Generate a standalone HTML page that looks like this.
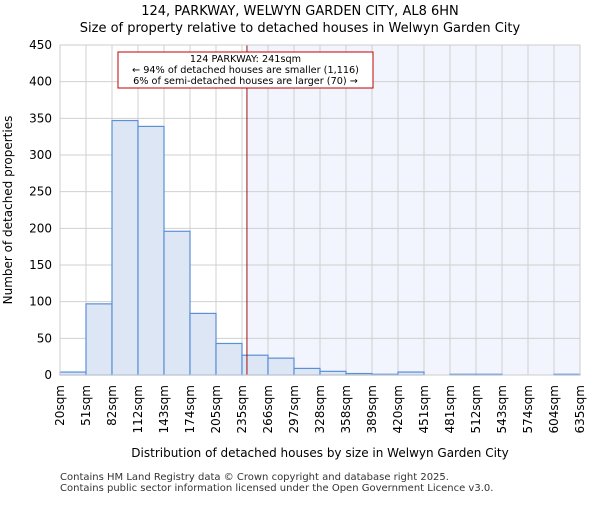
<!DOCTYPE html>
<html><head><meta charset="utf-8"><style>body{margin:0;background:#fff}svg{font-family:"DejaVu Sans","Liberation Sans",sans-serif}</style></head>
<body>
<svg id="c" width="600" height="500">
<text x="300" y="15" text-anchor="middle" font-size="13">124, PARKWAY, WELWYN GARDEN CITY, AL8 6HN</text>
<text x="300" y="32" text-anchor="middle" font-size="13">Size of property relative to detached houses in Welwyn Garden City</text>
<g id="plot"></g>
<text x="320" y="457" text-anchor="middle" font-size="12">Distribution of detached houses by size in Welwyn Garden City</text>
<text transform="translate(12,210) rotate(-90)" text-anchor="middle" font-size="12">Number of detached properties</text>
<text x="60" y="480" font-size="10" fill="#333">Contains HM Land Registry data © Crown copyright and database right 2025.</text>
<text x="60" y="491" font-size="10" fill="#333">Contains public sector information licensed under the Open Government Licence v3.0.</text>
</svg>
<script>
const binLabels=["20sqm","51sqm","82sqm","112sqm","143sqm","174sqm","205sqm","235sqm","266sqm","297sqm","328sqm","358sqm","389sqm","420sqm","451sqm","481sqm","512sqm","543sqm","574sqm","604sqm","635sqm"];
const counts=[4,97,347,339,196,84,43,27,23,9,5,2,1,4,0,1,1,0,0,1];
const yTicks=[0,50,100,150,200,250,300,350,400,450];
const propertyIndex=7.19;
const NS="http://www.w3.org/2000/svg";
const L=60,R=580,T=45,B=375,yMax=450;
const n=counts.length,bw=(R-L)/n;
const xs=i=>L+i*bw, ys=v=>B-(v/yMax)*(B-T);
const g=document.getElementById('plot');
function mk(t,a){const e=document.createElementNS(NS,t);for(const k in a)e.setAttribute(k,a[k]);g.appendChild(e);return e;}
const px=xs(propertyIndex);
let sh=mk('rect',{x:px,y:T,width:R-px,height:B-T,fill:'#f2f5fd'});


for(let i=0;i<=n;i++){let l=mk('line',{x1:xs(i),x2:xs(i),y1:T,y2:B,stroke:'#d0d0d0'});

}
yTicks.forEach(v=>{let l=mk('line',{x1:L,x2:R,y1:ys(v),y2:ys(v),stroke:'#d0d0d0'});


let t=mk('text',{x:L-8,y:ys(v)+4,'text-anchor':'end','font-size':12});t.textContent=v;

});
counts.forEach((c,i)=>{if(c<=0)return;let r=mk('rect',{x:xs(i),y:ys(c),width:bw,height:B-ys(c),fill:'#dce6f5',stroke:'#5b8fd6','stroke-width':1.2});

});
binLabels.forEach((s,i)=>{let t=mk('text',{transform:`translate(${xs(i)+4},385) rotate(-90)`,'text-anchor':'end','font-size':12});t.textContent=s;

});
let ln=mk('line',{x1:px,x2:px,y1:T,y2:B,stroke:'#9a1010','stroke-width':1});


let bx=mk('rect',{x:118,y:52,width:255,height:36,fill:'#fff',stroke:'#c00000'});


["124 PARKWAY: 241sqm","← 94% of detached houses are smaller (1,116)","6% of semi-detached houses are larger (70) →"].forEach((s,i)=>{let t=mk('text',{x:245.5,y:62+i*11,'text-anchor':'middle','font-size':9.7});t.textContent=s;

});
let ax=mk('rect',{x:L,y:T,width:R-L,height:B-T,fill:'none',stroke:'#ccc'});


</script>
</body></html>
